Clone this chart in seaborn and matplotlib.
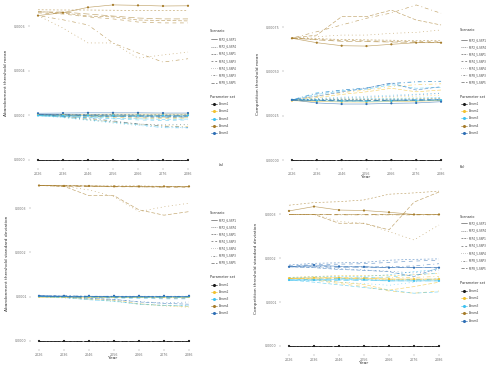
import matplotlib
matplotlib.use("Agg")
import matplotlib.pyplot as plt
import pandas as pd
import seaborn as sns
from matplotlib.lines import Line2D
from matplotlib.ticker import FormatStrFormatter

# ---------------- data (values in units of 1e-4) ----------------
YEARS = [2026, 2036, 2046, 2056, 2066, 2076, 2086]
SCENARIOS = ["RCP2_6-SSP1", "RCP2_6-SSP4", "RCP4_5-SSP1", "RCP4_5-SSP3",
             "RCP4_5-SSP4", "RCP8_5-SSP3", "RCP8_5-SSP5"]
PARAMS = ["Param1", "Param2", "Param3", "Param4", "Param5"]
UNIT = 1e-4

P1_ZERO = [[0, 0, 0, 0, 0, 0, 0], [0, 0, 0, 0, 0, 0, 0], [0, 0, 0, 0, 0, 0, 0],
           [0, 0, 0, 0, 0, 0, 0], [0, 0, 0, 0, 0, 0, 0], [0, 0, 0, 0, 0, 0, 0],
           [0, 0, 0, 0, 0, 0, 0]]

# (a) Abandonment threshold mean
A_P2 = [[2.04, 2.05, 2.05, 2.06, 2.06, 2.06, 2.06], [2.02, 2.02, 2.01, 2.01, 2.00, 2.00, 2.00],
        [2.02, 2.00, 1.97, 1.95, 1.93, 1.92, 1.92], [2.02, 1.99, 1.95, 1.91, 1.88, 1.87, 1.88],
        [2.02, 1.93, 1.80, 1.70, 1.60, 1.56, 1.58], [2.02, 1.95, 1.86, 1.74, 1.62, 1.53, 1.50],
        [2.02, 2.01, 2.00, 1.99, 1.98, 1.98, 1.98]]
A_P3 = [[2.00, 2.00, 2.01, 2.01, 2.01, 2.01, 2.01], [1.99, 1.98, 1.97, 1.96, 1.95, 1.95, 1.95],
        [1.99, 1.96, 1.92, 1.88, 1.85, 1.83, 1.84], [1.99, 1.95, 1.90, 1.85, 1.80, 1.78, 1.80],
        [1.99, 1.90, 1.78, 1.66, 1.55, 1.48, 1.46], [1.99, 1.92, 1.82, 1.70, 1.58, 1.45, 1.44],
        [1.99, 1.98, 1.97, 1.96, 1.95, 1.94, 1.94]]
A_P4 = [[6.49, 6.62, 6.86, 6.97, 6.95, 6.92, 6.93], [6.75, 6.74, 6.74, 6.73, 6.72, 6.72, 6.72],
        [6.67, 6.61, 6.47, 6.43, 6.29, 6.27, 6.25], [6.61, 6.56, 6.43, 6.34, 6.20, 6.16, 6.16],
        [6.49, 5.93, 5.26, 5.26, 4.58, 4.72, 4.85], [6.49, 6.30, 6.07, 5.26, 4.81, 4.40, 4.55],
        [6.65, 6.65, 6.56, 6.47, 6.38, 6.34, 6.34]]
A_P5 = [[2.10, 2.11, 2.12, 2.12, 2.12, 2.11, 2.11], [2.05, 2.05, 2.04, 2.04, 2.03, 2.03, 2.03],
        [2.05, 2.03, 2.00, 1.98, 1.97, 1.96, 1.96], [2.05, 2.02, 1.98, 1.95, 1.93, 1.92, 1.93],
        [2.05, 1.95, 1.82, 1.72, 1.62, 1.58, 1.60], [2.05, 1.97, 1.88, 1.76, 1.62, 1.52, 1.47],
        [2.05, 2.04, 2.03, 2.02, 2.01, 2.00, 2.00]]

# (b) Competition threshold mean
B_P2 = [[3.35, 3.30, 3.28, 3.27, 3.30, 3.32, 3.35], [3.38, 3.40, 3.41, 3.42, 3.44, 3.46, 3.48],
        [3.38, 3.52, 3.70, 3.85, 4.05, 3.85, 3.95], [3.38, 3.36, 3.35, 3.35, 3.36, 3.37, 3.38],
        [3.38, 3.42, 3.46, 3.50, 3.55, 3.60, 3.66], [3.38, 3.60, 3.80, 3.95, 4.15, 4.25, 4.30],
        [3.38, 3.36, 3.34, 3.34, 3.35, 3.36, 3.37]]
B_P3 = [[3.40, 3.35, 3.32, 3.31, 3.33, 3.35, 3.38], [3.40, 3.42, 3.44, 3.46, 3.48, 3.50, 3.52],
        [3.40, 3.70, 3.90, 4.00, 4.25, 4.05, 4.10], [3.40, 3.38, 3.37, 3.37, 3.38, 3.40, 3.42],
        [3.40, 3.48, 3.55, 3.60, 3.66, 3.72, 3.78], [3.40, 3.80, 3.95, 4.08, 4.30, 4.40, 4.45],
        [3.40, 3.38, 3.37, 3.37, 3.38, 3.39, 3.40]]
B_P4 = [[6.87, 6.62, 6.45, 6.43, 6.53, 6.62, 6.62], [6.88, 6.85, 6.80, 6.78, 6.76, 6.74, 6.73],
        [6.88, 7.05, 8.09, 8.09, 8.46, 7.90, 7.62], [6.88, 6.80, 6.75, 6.72, 6.70, 6.68, 6.67],
        [6.88, 6.96, 7.05, 7.05, 7.15, 7.20, 7.34], [6.88, 7.24, 7.62, 8.00, 8.30, 8.75, 8.28],
        [6.88, 6.78, 6.70, 6.68, 6.66, 6.64, 6.62]]
B_P5 = [[3.39, 3.22, 3.16, 3.16, 3.20, 3.22, 3.29], [3.39, 3.40, 3.40, 3.41, 3.42, 3.43, 3.45],
        [3.39, 3.61, 3.84, 4.06, 4.35, 3.95, 4.14], [3.39, 3.35, 3.33, 3.34, 3.36, 3.38, 3.40],
        [3.39, 3.45, 3.50, 3.55, 3.60, 3.68, 3.76], [3.39, 3.76, 3.95, 4.05, 4.33, 4.42, 4.42],
        [3.39, 3.37, 3.36, 3.36, 3.37, 3.38, 3.39]]

# (c) Abandonment threshold standard deviation
C_P2 = [[1.00, 1.00, 1.00, 1.00, 1.00, 1.00, 1.00], [1.00, 1.00, 0.99, 0.99, 0.99, 0.99, 0.99],
        [1.00, 0.99, 0.94, 0.92, 0.84, 0.80, 0.78], [1.00, 1.00, 0.99, 0.98, 0.98, 0.97, 0.97],
        [1.00, 0.98, 0.95, 0.90, 0.83, 0.79, 0.76], [1.00, 1.00, 0.99, 0.99, 0.98, 0.98, 0.98],
        [1.00, 0.99, 0.99, 0.99, 0.98, 0.98, 0.98]]
C_P3 = [[1.01, 1.01, 1.01, 1.01, 1.01, 1.01, 1.01], [1.00, 1.00, 1.00, 0.99, 0.99, 0.99, 0.99],
        [1.00, 0.98, 0.93, 0.90, 0.83, 0.80, 0.79], [1.00, 0.99, 0.98, 0.97, 0.96, 0.95, 0.95],
        [1.00, 0.97, 0.94, 0.89, 0.84, 0.81, 0.80], [1.00, 1.00, 0.99, 0.99, 0.99, 0.98, 0.98],
        [1.00, 1.00, 1.00, 0.99, 0.99, 0.99, 0.99]]
C_P4 = [[3.51, 3.50, 3.50, 3.49, 3.49, 3.49, 3.49], [3.51, 3.51, 3.50, 3.50, 3.50, 3.49, 3.49],
        [3.51, 3.49, 3.28, 3.28, 2.96, 2.84, 2.92], [3.51, 3.50, 3.49, 3.48, 3.48, 3.47, 3.47],
        [3.51, 3.49, 3.41, 3.26, 2.92, 3.03, 3.11], [3.51, 3.51, 3.50, 3.49, 3.48, 3.48, 3.48],
        [3.51, 3.50, 3.49, 3.49, 3.48, 3.48, 3.48]]
C_P5 = [[1.02, 1.02, 1.02, 1.02, 1.02, 1.02, 1.02], [1.02, 1.02, 1.01, 1.01, 1.01, 1.01, 1.01],
        [1.02, 1.00, 0.96, 0.94, 0.88, 0.85, 0.83], [1.02, 1.01, 1.00, 0.99, 0.98, 0.97, 0.97],
        [1.02, 1.00, 0.97, 0.93, 0.89, 0.86, 0.88], [1.02, 1.02, 1.01, 1.01, 1.00, 1.00, 1.00],
        [1.02, 1.01, 1.01, 1.00, 1.00, 1.00, 1.00]]

# (d) Competition threshold standard deviation
D_P2 = [[1.54, 1.55, 1.55, 1.54, 1.52, 1.52, 1.52], [1.56, 1.58, 1.60, 1.60, 1.60, 1.62, 1.65],
        [1.54, 1.52, 1.45, 1.40, 1.27, 1.35, 1.45], [1.54, 1.50, 1.42, 1.35, 1.25, 1.20, 1.25],
        [1.54, 1.54, 1.53, 1.52, 1.50, 1.50, 1.50], [1.54, 1.55, 1.55, 1.55, 1.55, 1.56, 1.58],
        [1.54, 1.54, 1.54, 1.53, 1.52, 1.52, 1.52]]
D_P3 = [[1.50, 1.50, 1.52, 1.51, 1.48, 1.48, 1.48], [1.55, 1.57, 1.58, 1.58, 1.62, 1.69, 1.74],
        [1.50, 1.45, 1.39, 1.33, 1.27, 1.20, 1.23], [1.50, 1.52, 1.53, 1.55, 1.57, 1.62, 1.66],
        [1.50, 1.49, 1.45, 1.42, 1.38, 1.45, 1.55], [1.50, 1.50, 1.50, 1.50, 1.50, 1.51, 1.52],
        [1.50, 1.50, 1.49, 1.49, 1.48, 1.48, 1.48]]
D_P4 = [[3.07, 3.17, 3.09, 3.08, 3.04, 2.99, 2.99], [3.20, 3.26, 3.28, 3.32, 3.45, 3.48, 3.52],
        [2.99, 2.99, 2.79, 2.79, 2.64, 3.27, 3.50], [2.99, 2.99, 2.99, 2.99, 2.99, 2.99, 2.99],
        [2.99, 2.99, 2.83, 2.79, 2.60, 2.41, 2.75], [2.99, 2.99, 2.98, 2.98, 2.98, 2.98, 2.98],
        [3.00, 3.00, 3.00, 3.00, 3.00, 3.00, 3.00]]
D_P5 = [[1.80, 1.84, 1.81, 1.80, 1.78, 1.78, 1.78], [1.84, 1.88, 1.89, 1.90, 1.95, 1.97, 1.98],
        [1.80, 1.78, 1.74, 1.72, 1.69, 1.58, 1.78], [1.82, 1.85, 1.86, 1.87, 1.90, 1.93, 1.95],
        [1.80, 1.79, 1.76, 1.73, 1.70, 1.66, 1.72], [1.80, 1.81, 1.80, 1.80, 1.80, 1.82, 1.87],
        [1.80, 1.80, 1.79, 1.79, 1.78, 1.78, 1.78]]

# ---------------- styling ----------------
PAL = {"Param1": "#1a1a1a", "Param2": "#F2C12E", "Param3": "#3EC1F0",
       "Param4": "#A67C2A", "Param5": "#2F6FB5"}
DASHES = {"RCP2_6-SSP1": "", "RCP2_6-SSP4": (3, 3), "RCP4_5-SSP1": (6, 3),
          "RCP4_5-SSP3": (6, 6), "RCP4_5-SSP4": (1.5, 4.5), "RCP8_5-SSP3": (1.5, 4.5, 6, 4.5),
          "RCP8_5-SSP5": (10, 4.5)}

W, H = 500, 369
sns.set_theme(style="white")
plt.rcParams["font.family"] = ["DejaVu Sans"]
fig = plt.figure(figsize=(W / 100, H / 100), dpi=100)
fig.patch.set_facecolor("white")


def build_df(p2, p3, p4, p5):
    rows = []
    for p, series in zip(PARAMS, [P1_ZERO, p2, p3, p4, p5]):
        for s, vals in zip(SCENARIOS, series):
            for yr, v in zip(YEARS, vals):
                rows.append((yr, v * UNIT, p, s))
    return pd.DataFrame(rows, columns=["Year", "Value", "Parameter set", "Scenario"])


def px_axes(left, top, right, bottom):
    return fig.add_axes([left / W, 1 - bottom / H, (right - left) / W, (bottom - top) / H])


def panel(rect, df, ylim, yticks, fmt):
    ax = px_axes(*rect)
    sns.lineplot(data=df, x="Year", y="Value", hue="Parameter set", style="Scenario",
                 hue_order=PARAMS, style_order=SCENARIOS, palette=PAL, dashes=DASHES,
                 linewidth=0.45, alpha=0.7, legend=False, estimator=None, ax=ax)
    sns.scatterplot(data=df[df["Scenario"] == SCENARIOS[0]], x="Year", y="Value",
                    hue="Parameter set", hue_order=PARAMS, palette=PAL, s=2.5,
                    linewidth=0, legend=False, ax=ax, zorder=4)
    ax.set_xlim(2022.8, 2089.2)
    ax.set_ylim(*ylim)
    ax.set_xticks(YEARS)
    ax.set_yticks(yticks)
    ax.yaxis.set_major_formatter(FormatStrFormatter(fmt))
    ax.set_xlabel("")
    ax.set_ylabel("")
    for sp in ax.spines.values():
        sp.set_visible(False)
    ax.tick_params(axis="both", length=1.5, width=0.3, color="#888888",
                   labelsize=2.3, labelcolor="#707070", pad=1.5)
    ax.tick_params(axis="both", which="both", bottom=True, left=True)
    ax.set_facecolor("none")
    return ax


def ftext(x, y, s, **kw):
    fig.text(x / W, 1 - y / H, s, **kw)


def draw_legend(xk, st_y, s0, sdy, pt_y, p0, pdy):
    ftext(xk - 1, st_y, "Scenario", fontsize=2.5, color="#333333", va="center", ha="left")
    for i, s in enumerate(SCENARIOS):
        y = 1 - (s0 + i * sdy) / H
        ls = "-" if DASHES[s] == "" else (0, tuple(d * 0.5 for d in DASHES[s]))
        fig.add_artist(Line2D([xk / W, (xk + 6) / W], [y, y], transform=fig.transFigure,
                              color="#555555", lw=0.45, linestyle=ls))
        ftext(xk + 8, s0 + i * sdy, s, fontsize=2.0, color="#444444", va="center", ha="left")
    ftext(xk - 1, pt_y, "Parameter set", fontsize=2.5, color="#333333", va="center", ha="left")
    for i, p in enumerate(PARAMS):
        y = 1 - (p0 + i * pdy) / H
        fig.add_artist(Line2D([xk / W, (xk + 6) / W], [y, y], transform=fig.transFigure,
                              color=PAL[p], lw=0.45))
        fig.add_artist(Line2D([(xk + 3) / W], [y], transform=fig.transFigure,
                              color=PAL[p], marker="o", markersize=1.2, lw=0))
        ftext(xk + 8, p0 + i * pdy, p, fontsize=2.0, color="#444444", va="center", ha="left")


# (a)
panel((30, 0, 196, 168), build_df(A_P2, A_P3, A_P4, A_P5), (-0.36e-4, 7.19e-4),
      [0, 2e-4, 4e-4, 6e-4], "%.4f")
ftext(6, 83, "Abandonment threshold mean", rotation=90, fontsize=3.2, color="#333333",
      ha="center", va="center")
draw_legend(211, 31, 39.3, 7.2, 96.7, 104.3, 7.1)
ftext(221, 165, "(a)", fontsize=2.8, color="#333333", ha="center", va="center")

# (b)
panel((284, 0, 449, 168), build_df(B_P2, B_P3, B_P4, B_P5), (-0.45e-4, 9.03e-4),
      [0, 2.5e-4, 5e-4, 7.5e-4], "%.5f")
ftext(258, 84, "Competition threshold mean", rotation=90, fontsize=3.2, color="#333333",
      ha="center", va="center")
ftext(366, 177, "Year", fontsize=3.2, color="#333333", ha="center", va="center")
draw_legend(461, 30, 40, 7.0, 97, 104, 7.2)
ftext(462, 167, "(b)", fontsize=2.8, color="#333333", ha="center", va="center")

# (c)
panel((31, 180, 197, 349), build_df(C_P2, C_P3, C_P4, C_P5), (-0.181e-4, 3.634e-4),
      [0, 1e-4, 2e-4, 3e-4], "%.4f")
ftext(7, 263, "Abandonment threshold standard deviation", rotation=90, fontsize=3.2,
      color="#333333", ha="center", va="center")
ftext(113, 358, "Year", fontsize=3.2, color="#333333", ha="center", va="center")
draw_legend(211, 213.3, 220, 7.1, 277.3, 285.3, 7.0)

# (d)
panel((281, 183, 447, 354), build_df(D_P2, D_P3, D_P4, D_P5), (-0.182e-4, 3.705e-4),
      [0, 1e-4, 2e-4, 3e-4], "%.4f")
ftext(256, 268, "Competition threshold standard deviation", rotation=90, fontsize=3.2,
      color="#333333", ha="center", va="center")
ftext(364, 363, "Year", fontsize=3.2, color="#333333", ha="center", va="center")
draw_legend(461, 216.7, 223.3, 7.5, 283.3, 290.7, 7.5)

fig.savefig("out.png", dpi=100, facecolor="white")
